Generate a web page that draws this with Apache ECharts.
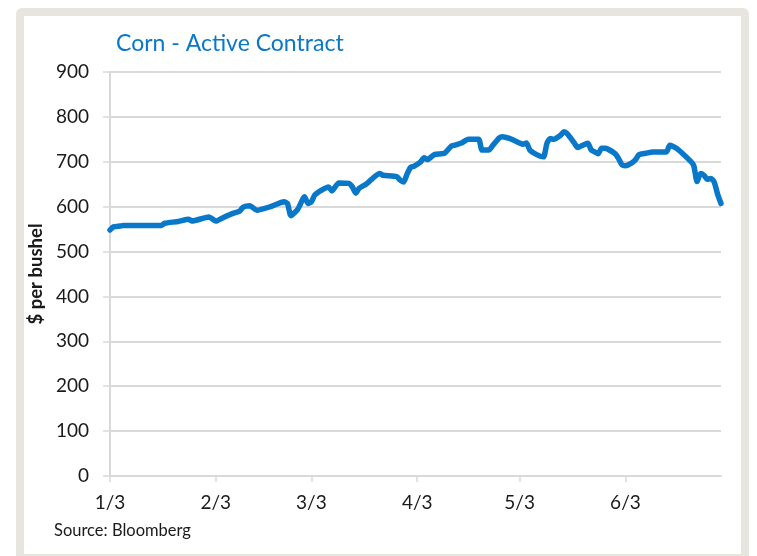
<!DOCTYPE html>
<html>
<head>
<meta charset="utf-8">
<script src="https://cdn.jsdelivr.net/npm/echarts@6/dist/echarts.min.js"></script>
<style>
html,body{margin:0;padding:0;background:#fff;}
#c{width:757px;height:556px;}
</style>
</head>
<body>
<div id="c"></div>
<script>
// ---- data ----
const dates = [
 '2022-01-03','2022-01-04','2022-01-06','2022-01-07','2022-01-12','2022-01-18','2022-01-19','2022-01-23','2022-01-26','2022-01-27',
 '2022-02-01','2022-02-03','2022-02-05','2022-02-08','2022-02-10','2022-02-11','2022-02-13','2022-02-15','2022-02-19','2022-02-23',
 '2022-02-24','2022-02-25','2022-02-27','2022-03-01','2022-03-02','2022-03-03','2022-03-04','2022-03-06','2022-03-08','2022-03-09',
 '2022-03-11','2022-03-14','2022-03-15','2022-03-16','2022-03-17','2022-03-19','2022-03-23','2022-03-24','2022-03-28','2022-03-29',
 '2022-03-30','2022-03-31','2022-04-01','2022-04-02','2022-04-04','2022-04-05','2022-04-06','2022-04-08','2022-04-11','2022-04-13',
 '2022-04-14','2022-04-16','2022-04-18','2022-04-21','2022-04-22','2022-04-24','2022-04-25','2022-04-27','2022-04-28','2022-04-30',
 '2022-05-03','2022-05-04','2022-05-05','2022-05-06','2022-05-08','2022-05-10','2022-05-11','2022-05-12','2022-05-13','2022-05-15',
 '2022-05-16','2022-05-17','2022-05-19','2022-05-20','2022-05-21','2022-05-23','2022-05-24','2022-05-25','2022-05-26','2022-05-27',
 '2022-05-28','2022-05-31','2022-06-01','2022-06-02','2022-06-03','2022-06-05','2022-06-06','2022-06-07','2022-06-09','2022-06-11',
 '2022-06-15','2022-06-16','2022-06-18','2022-06-22','2022-06-23','2022-06-24','2022-06-25','2022-06-26','2022-06-27','2022-06-28',
 '2022-06-29','2022-06-30','2022-07-01'
];
const prices = [
 548,555,557,558,558,558,563,567,572,568,
 577,568,575,585,590,599,602,592,600,611,
 607,580,594,622,607,611,626,637,644,635,
 653,652,644,630,641,650,674,670,667,659,
 655,672,687,690,700,709,705,716,719,735,
 737,742,750,750,726,726,735,753,756,752,
 742,739,742,726,716,711,741,752,750,759,
 767,762,742,732,735,741,726,722,718,730,
 730,718,707,693,691,698,705,716,719,722,
 722,737,730,702,692,656,674,670,661,663,
 655,628,607
];
const tickDates = ['2022-01-03','2022-02-03','2022-03-03','2022-04-03','2022-05-03','2022-06-03'];
const axisStart = '2022-01-03';
const axisEnd = '2022-07-01';
const yTicks = [0,100,200,300,400,500,600,700,800,900];
const titleText = 'Corn - Active Contract';
const yName = '$ per bushel';
const sourceText = 'Source: Bloomberg';

// ---- chart ----
function ts(s){ const p = s.split('-').map(Number); return new Date(p[0], p[1]-1, p[2]).getTime(); }
const tickTs = tickDates.map(ts);
const chart = echarts.init(document.getElementById('c'), null, {renderer:'canvas'});
const fontFam = 'Lato, "Open Sans", sans-serif';
const gridColor = '#d9d9d9';
chart.setOption({
  animation:false,
  backgroundColor:'#ffffff',
  graphic:[
    {type:'rect', z:-10, shape:{x:16,y:8,width:733,height:560,r:6}, style:{fill:'#e6e5e0'}},
    {type:'rect', z:-9, shape:{x:24,y:16,width:717,height:538}, style:{fill:'#ffffff'}},
    {type:'text', left:54, top:522, style:{text:sourceText, font:'16.5px '+fontFam, fill:'#1a1a1a'}}
  ],
  title:{
    text:titleText, left:111, top:27,
    textStyle:{color:'#0a78c8', fontSize:23, fontWeight:'normal', fontFamily:fontFam}
  },
  grid:{left:110, right:36, top:72, bottom:80},
  xAxis:{
    type:'value',
    min:ts(axisStart), max:ts(axisEnd),
    axisLine:{show:true, lineStyle:{color:gridColor, width:2}},
    axisTick:{show:true, length:6, customValues:tickTs, lineStyle:{color:gridColor, width:1.5}},
    axisLabel:{
      customValues:tickTs, margin:17, fontSize:19, color:'#1a1a1a', fontFamily:fontFam,
      formatter:function(v){ const d=new Date(v); return (d.getMonth()+1)+'/'+d.getDate(); }
    },
    splitLine:{show:false}
  },
  yAxis:{
    type:'value', min:yTicks[0], max:yTicks[yTicks.length-1], interval:100,
    name:yName, nameLocation:'middle', nameGap:61, nameRotate:90,
    nameTextStyle:{fontSize:18.5, fontWeight:'bold', color:'#1a1a1a', fontFamily:fontFam},
    axisLine:{show:true, lineStyle:{color:gridColor, width:2}},
    axisTick:{show:true, length:7, lineStyle:{color:gridColor, width:1.5}},
    axisLabel:{fontSize:19, color:'#1a1a1a', margin:21, fontFamily:fontFam},
    splitLine:{show:true, lineStyle:{color:gridColor, width:2}}
  },
  series:[{
    type:'line',
    data:dates.map((d,i)=>[ts(d), prices[i]]),
    showSymbol:false, symbol:'none',
    lineStyle:{color:'#0a78c8', width:5.5, cap:'round', join:'round'},
    smooth:0.2
  }]
});
</script>
</body>
</html>
